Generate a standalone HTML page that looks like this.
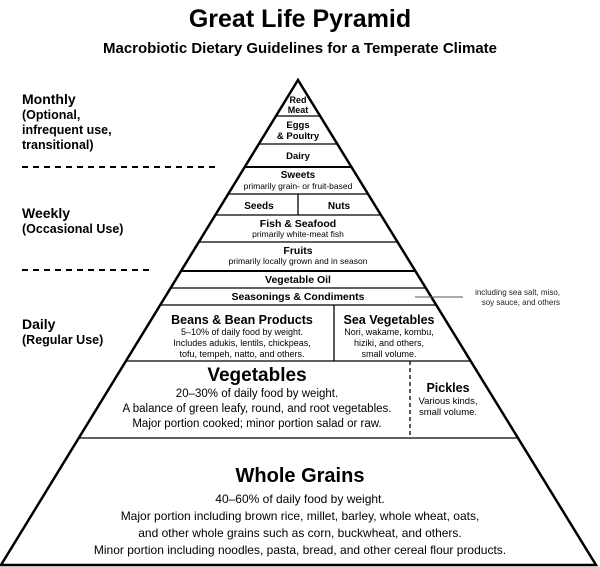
<!DOCTYPE html>
<html><head><meta charset="utf-8"><style>
html,body{margin:0;padding:0;background:#fff;}
svg{display:block;font-family:"Liberation Sans",Arial,sans-serif;}
.b{font-weight:bold;}
</style></head><body>
<svg width="600" height="567" viewBox="0 0 600 567" xmlns="http://www.w3.org/2000/svg">
<g fill="#000" text-anchor="middle">
<text x="300" y="27" font-size="25" class="b">Great Life Pyramid</text>
<text x="300" y="53" font-size="15" class="b">Macrobiotic Dietary Guidelines for a Temperate Climate</text>
</g>
<g fill="#000" class="b">
<text x="22" y="104" font-size="14">Monthly</text>
<text x="22" y="119" font-size="12.5">(Optional,</text>
<text x="22" y="134" font-size="12.5">infrequent use,</text>
<text x="22" y="149" font-size="12.5">transitional)</text>
<text x="22" y="218" font-size="14">Weekly</text>
<text x="22" y="233" font-size="12.5">(Occasional Use)</text>
<text x="22" y="329" font-size="14">Daily</text>
<text x="22" y="344" font-size="12.5">(Regular Use)</text>
</g>
<g stroke="#000" stroke-width="2" stroke-dasharray="6,5">
<line x1="22" y1="167" x2="220" y2="167"/>
<line x1="22" y1="270" x2="152" y2="270"/>
</g>
<g stroke="#000" fill="none">
<polygon points="298,80 1,565 596,565" stroke-width="2.5" stroke-linejoin="miter"/>
<line x1="276" y1="116" x2="320" y2="116" stroke-width="1.3"/>
<line x1="258.8" y1="144" x2="337.2" y2="144" stroke-width="1.3"/>
<line x1="244.7" y1="167" x2="351.3" y2="167" stroke-width="2"/>
<line x1="228.1" y1="194" x2="367.9" y2="194" stroke-width="1.3"/>
<line x1="215.2" y1="215" x2="380.8" y2="215" stroke-width="1.3"/>
<line x1="198.7" y1="242" x2="397.3" y2="242" stroke-width="1.3"/>
<line x1="180.9" y1="271" x2="415.1" y2="271" stroke-width="2"/>
<line x1="170.5" y1="288" x2="425.5" y2="288" stroke-width="1.3"/>
<line x1="160.1" y1="305" x2="435.9" y2="305" stroke-width="1.3"/>
<line x1="125.7" y1="361" x2="470.3" y2="361" stroke-width="1.3"/>
<line x1="78.5" y1="438" x2="517.5" y2="438" stroke-width="1.3"/>
<line x1="298" y1="194" x2="298" y2="215" stroke-width="1.3"/>
<line x1="334" y1="305" x2="334" y2="361" stroke-width="1.3"/>
<line x1="410" y1="361" x2="410" y2="438" stroke-width="1.3" stroke-dasharray="4,3"/>
<line x1="415" y1="297" x2="463" y2="297" stroke-width="1" stroke="#555"/>
</g>
<g fill="#000" text-anchor="middle">
<text x="298" y="103" font-size="9" class="b">Red</text>
<text x="298" y="113" font-size="9" class="b">Meat</text>
<text x="298" y="128" font-size="9.5" class="b">Eggs</text>
<text x="298" y="139" font-size="9.5" class="b">&amp; Poultry</text>
<text x="298" y="159" font-size="9.5" class="b">Dairy</text>
<text x="298" y="178" font-size="10" class="b">Sweets</text>
<text x="298" y="189" font-size="8.5">primarily grain- or fruit-based</text>
<text x="259" y="209" font-size="10" class="b">Seeds</text>
<text x="339" y="209" font-size="10" class="b">Nuts</text>
<text x="298" y="227" font-size="10.5" class="b">Fish &amp; Seafood</text>
<text x="298" y="237" font-size="8.5">primarily white-meat fish</text>
<text x="298" y="254" font-size="10.5" class="b">Fruits</text>
<text x="298" y="264" font-size="8.5">primarily locally grown and in season</text>
<text x="298" y="283" font-size="10.5" class="b">Vegetable Oil</text>
<text x="298" y="300" font-size="10.5" class="b">Seasonings &amp; Condiments</text>
<text x="242" y="324" font-size="12.5" class="b">Beans &amp; Bean Products</text>
<text x="242" y="335" font-size="9">5–10% of daily food by weight.</text>
<text x="242" y="346" font-size="9">Includes adukis, lentils, chickpeas,</text>
<text x="242" y="357" font-size="9">tofu, tempeh, natto, and others.</text>
<text x="389" y="324" font-size="12.5" class="b">Sea Vegetables</text>
<text x="389" y="335" font-size="9">Nori, wakame, kombu,</text>
<text x="389" y="346" font-size="9">hiziki, and others,</text>
<text x="389" y="357" font-size="9">small volume.</text>
<text x="257" y="381" font-size="19" class="b">Vegetables</text>
<text x="257" y="397" font-size="11.5">20–30% of daily food by weight.</text>
<text x="257" y="412" font-size="11.5">A balance of green leafy, round, and root vegetables.</text>
<text x="257" y="427" font-size="11.5">Major portion cooked; minor portion salad or raw.</text>
<text x="448" y="392" font-size="12.5" class="b">Pickles</text>
<text x="448" y="404" font-size="9.5">Various kinds,</text>
<text x="448" y="415" font-size="9.5">small volume.</text>
<text x="300" y="482" font-size="20" class="b">Whole Grains</text>
<text x="300" y="503" font-size="12">40–60% of daily food by weight.</text>
<text x="300" y="520" font-size="12">Major portion including brown rice, millet, barley, whole wheat, oats,</text>
<text x="300" y="537" font-size="12">and other whole grains such as corn, buckwheat, and others.</text>
<text x="300" y="554" font-size="12">Minor portion including noodles, pasta, bread, and other cereal flour products.</text>
</g>
<g fill="#222" text-anchor="end" font-size="8">
<text x="560" y="295">including sea salt, miso,</text>
<text x="560" y="305">soy sauce, and others</text>
</g>
</svg>
</body></html>
